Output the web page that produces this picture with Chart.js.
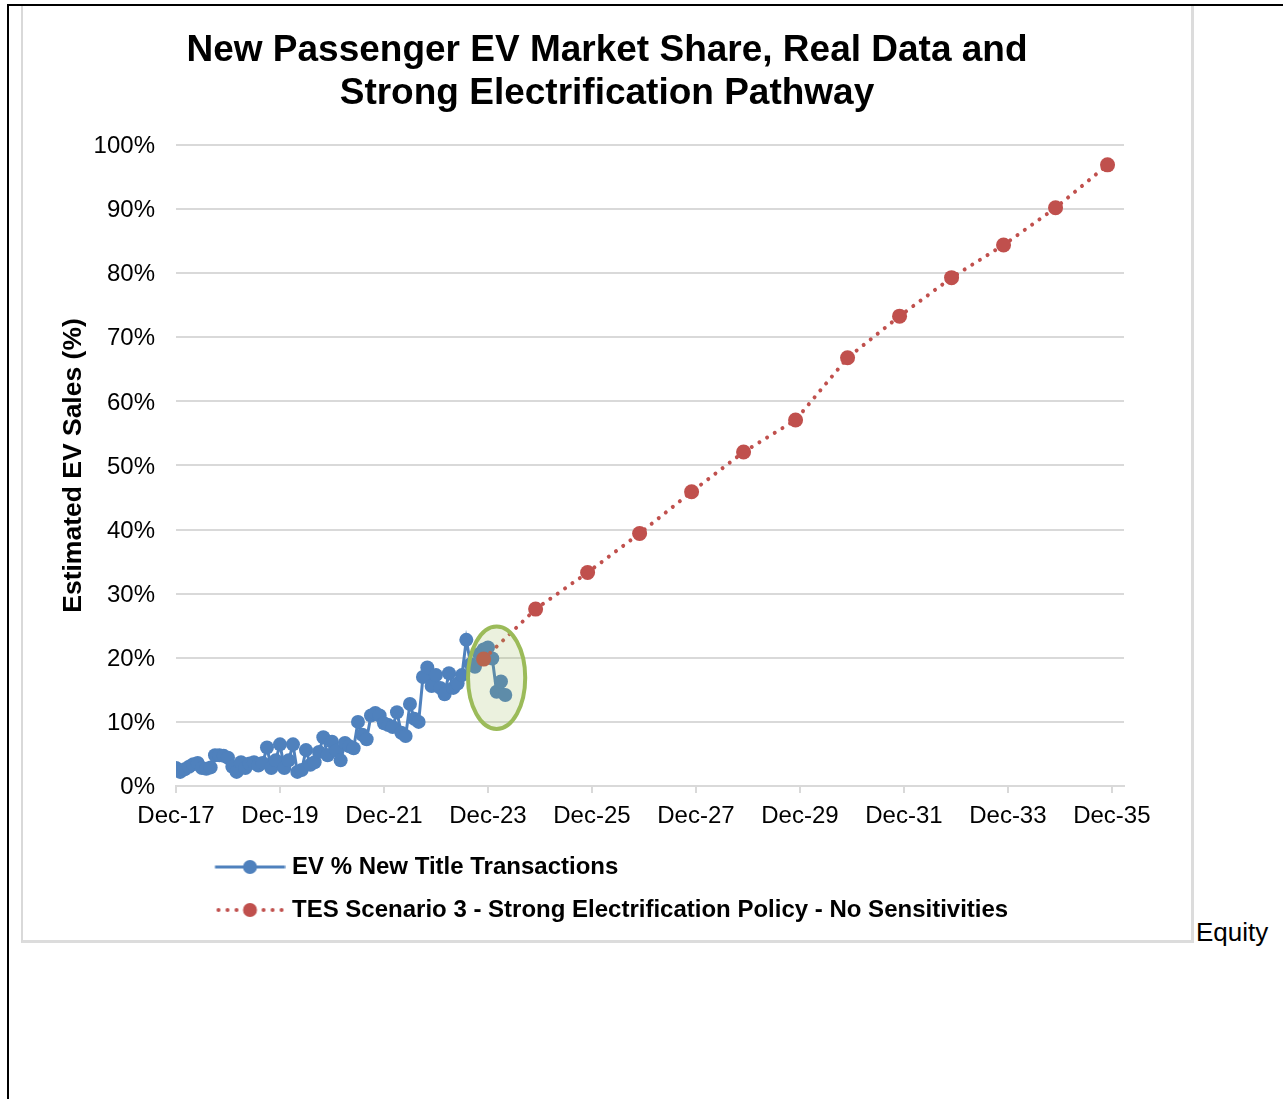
<!DOCTYPE html>
<html>
<head>
<meta charset="utf-8">
<script src="https://cdn.jsdelivr.net/npm/chart.js@4/dist/chart.umd.min.js"></script>
<style>
html,body{margin:0;padding:0;background:#fff;}
body{width:1283px;height:1099px;position:relative;overflow:hidden;font-family:"Liberation Sans",Arial,sans-serif;}
#frameTop{position:absolute;left:7px;top:4px;width:1276px;height:2px;background:#000;}
#frameLeft{position:absolute;left:7px;top:4px;width:2px;height:1095px;background:#000;}
#box{position:absolute;left:21px;top:6px;width:1168px;height:934px;border-left:2px solid #d9d9d9;border-right:3px solid #dcdcdc;border-bottom:3px solid #dcdcdc;background:#fff;}
#box canvas{position:absolute;left:0;top:0;}
#equity{position:absolute;left:1196px;top:919px;font-size:26px;line-height:26px;color:#000;white-space:nowrap;}
</style>
</head>
<body>
<div id="frameTop"></div>
<div id="frameLeft"></div>
<div id="box"><canvas id="c" width="1168" height="934"></canvas></div>
<div id="equity">Equity</div>
<script>
// ---- Data ----
const titleLines = ['New Passenger EV Market Share, Real Data and', 'Strong Electrification Pathway'];
const yAxisTitle = 'Estimated EV Sales (%)';
const xTickLabels = ['Dec-17','Dec-19','Dec-21','Dec-23','Dec-25','Dec-27','Dec-29','Dec-31','Dec-33','Dec-35'];
const realSeriesName = 'EV % New Title Transactions';
const scenarioSeriesName = 'TES Scenario 3 - Strong Electrification Policy - No Sensitivities';
const realStart = '2017-12'; // monthly values from this month
const realValues = [2.8,2.2,2.6,3.0,3.4,3.6,2.8,2.7,2.9,4.8,
                    4.8,4.7,4.4,3.0,2.2,3.7,2.8,3.5,3.7,3.2,
                    3.6,6.0,2.8,4.0,6.5,2.8,4.0,6.5,2.2,2.5,
                    5.6,3.3,3.7,5.3,7.6,4.8,6.9,5.5,4.0,6.7,
                    6.2,5.9,10.0,8.0,7.3,11.0,11.4,11.0,9.8,9.5,
                    9.2,11.5,8.3,7.8,12.8,10.5,10.0,17.0,18.5,15.6,
                    17.3,15.3,14.3,17.6,15.3,16.0,17.3,22.8,19.0,18.6,
                    20.6,21.3,21.6,19.9,14.7,16.3,14.2];
const scenarioDates = ['2023-11','2024-11','2025-11','2026-11','2027-11','2028-11','2029-11',
                       '2030-11','2031-11','2032-11','2033-11','2034-11','2035-11'];
const scenarioValues = [19.8,27.6,33.3,39.4,45.9,52.1,57.1,66.8,73.3,79.3,84.4,90.2,96.9];
// highlighted region (ellipse): centre date/value and half extents
const highlightCentre = ['2024-02', 16.9];
const highlightHalfSize = [6.6, 8.0]; // months, percentage points

// ---- Helpers ----
const FONT = '"Liberation Sans", Arial, sans-serif';
const BLUE = '#4F81BD', RED = '#C0504D', GRID = '#d9d9d9';
function monthIndex(s){ const [y,m] = s.split('-').map(Number); return (y-2017)*12 + (m-12); }
const realOffset = monthIndex(realStart);
const realData = realValues.map((v,i)=>({x: realOffset + i, y: v}));
const scenarioData = scenarioValues.map((v,i)=>({x: monthIndex(scenarioDates[i]), y: v}));
const axisMin = monthIndex('2017-12');
const axisMax = monthIndex('2036-02') + 0.8;

function legendSymbol(color, dotted){
  const c = document.createElement('canvas'); c.width = 96; c.height = 20;
  const g = c.getContext('2d');
  g.strokeStyle = color; g.fillStyle = color;
  g.beginPath();
  if (dotted){ g.lineWidth = 4; g.lineCap = 'round'; g.setLineDash([0.01, 9]); g.moveTo(29,10); g.lineTo(96,10); }
  else { g.lineWidth = 3; g.moveTo(25.5,10); g.lineTo(95.5,10); }
  g.stroke();
  g.setLineDash([]);
  g.beginPath(); g.arc(60.5,10,7,0,Math.PI*2); g.fill();
  return c;
}

const highlightPlugin = {
  id: 'highlight',
  afterDatasetsDraw(chart){
    const {ctx, scales:{x, y}} = chart;
    const cm = monthIndex(highlightCentre[0]), cv = highlightCentre[1];
    const cx = x.getPixelForValue(cm), cy = y.getPixelForValue(cv);
    const rx = x.getPixelForValue(cm + highlightHalfSize[0]) - cx;
    const ry = cy - y.getPixelForValue(cv + highlightHalfSize[1]);
    ctx.save();
    ctx.beginPath();
    ctx.ellipse(cx, cy, rx, ry, 0, 0, Math.PI*2);
    ctx.fillStyle = 'rgba(155,187,89,0.2)';
    ctx.fill();
    ctx.lineWidth = 4;
    ctx.strokeStyle = '#9BBB59';
    ctx.stroke();
    ctx.restore();
  }
};

Chart.defaults.font.family = FONT;
Chart.defaults.color = '#000';

new Chart(document.getElementById('c'), {
  type: 'line',
  data: {
    datasets: [
      { label: realSeriesName, data: realData, borderColor: BLUE, backgroundColor: BLUE,
        borderWidth: 3, pointRadius: 7, pointBorderWidth: 0, pointBackgroundColor: BLUE,
        tension: 0, order: 1 },
      { label: scenarioSeriesName, data: scenarioData, borderColor: RED, backgroundColor: RED,
        borderWidth: 4, borderDash: [0.01, 9], borderCapStyle: 'round',
        pointRadius: 7.5, pointBorderWidth: 0, pointBackgroundColor: RED, tension: 0, order: 0 }
    ]
  },
  options: {
    responsive: false, animation: false, devicePixelRatio: 1,
    layout: { padding: { left: 0, right: 0, top: 0, bottom: 8 } },
    plugins: {
      title: { display: true, text: titleLines, color: '#000',
        font: { family: FONT, size: 37, weight: 'bold', lineHeight: 1.162 },
        padding: { top: 23.5, bottom: 29.5 } },
      legend: { position: 'bottom', fullSize: false, align: 'start',
        labels: {
          usePointStyle: true, pointStyleWidth: 85, boxHeight: 22, padding: 19,
          color: '#000', font: { family: FONT, size: 24, weight: 'bold' },
          generateLabels(chart){
            return chart.data.datasets.map((ds,i)=>({
              text: ds.label, fillStyle: ds.borderColor, strokeStyle: ds.borderColor,
              lineWidth: 0, hidden: false, datasetIndex: i, fontColor: '#000',
              pointStyle: legendSymbol(ds.borderColor, i === 1)
            }));
          }
        } },
      tooltip: { enabled: false }
    },
    scales: {
      x: { type: 'linear', min: axisMin, max: axisMax,
        afterFit(s){ s.height = 50; },
        ticks: { stepSize: 24, includeBounds: false, autoSkip: false, maxRotation: 0, minRotation: 0,
          padding: 9, color: '#000', font: { family: FONT, size: 24 },
          callback: (v)=> xTickLabels[Math.round(v/24)] },
        grid: { drawOnChartArea: false, drawTicks: true, tickLength: 7, color: GRID, lineWidth: 2 },
        border: { display: true, color: GRID, width: 2 } },
      y: { min: 0, max: 100,
        afterFit(s){ s.width = 153; },
        ticks: { stepSize: 10, padding: 21, labelOffset: 1.5, color: '#000', font: { family: FONT, size: 24 },
          callback: (v)=> v + '%' },
        grid: { color: GRID, lineWidth: 2, drawTicks: false },
        border: { display: false },
        title: { display: true, text: yAxisTitle, color: '#000',
          font: { family: FONT, size: 26.5, weight: 'bold' }, padding: { top: 35, bottom: 0 } } },
      yRight: { position: 'right', min: 0, max: 1, display: true,
        afterFit(s){ s.width = 67; },
        ticks: { display: false }, grid: { display: false }, border: { display: false } }
    }
  },
  plugins: [highlightPlugin]
});
</script>
</body>
</html>
